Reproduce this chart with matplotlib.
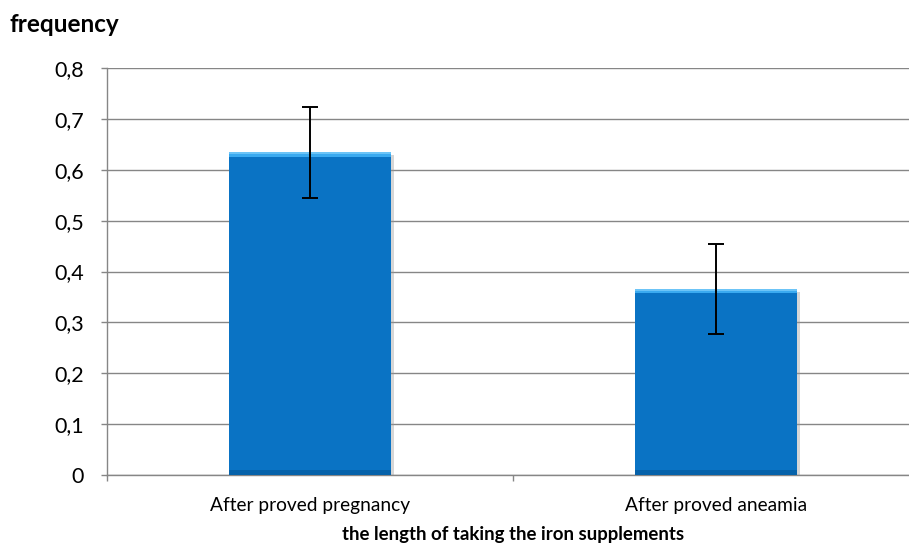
import matplotlib
matplotlib.use("Agg")
import matplotlib.pyplot as plt
import matplotlib.patheffects as pe
import numpy as np

categories = ["After proved pregnancy", "After proved aneamia"]
values = [0.634, 0.366]
errors = [0.089, 0.089]
yticks = [0, 0.1, 0.2, 0.3, 0.4, 0.5, 0.6, 0.7, 0.8]
ytick_labels = ["0", "0,1", "0,2", "0,3", "0,4", "0,5", "0,6", "0,7", "0,8"]

plt.rcParams['font.family'] = ['Lato', 'DejaVu Sans']

W, H = 909, 548
fig = plt.figure(figsize=(W/100, H/100), dpi=100)
ax = fig.add_axes([107/W, 73/H, 812/W, 407/H])

x = np.arange(len(categories))
gray = "#868686"
bw = 0.4

bars = ax.bar(x, values, width=bw, color="#0A73C4", zorder=3,
              path_effects=[pe.SimplePatchShadow(offset=(2, -2), shadow_rgbFace="#999999", alpha=0.4), pe.Normal()])
# bevel highlights
edge = 0.009
ax.bar(x, [edge]*len(x), bottom=[v - edge for v in values], width=bw, color="#3AAAF0", zorder=4)
ax.bar(x, [edge*0.4]*len(x), bottom=[v - edge*0.4 for v in values], width=bw, color="#6CC4F7", zorder=4)
ax.bar(x, [edge]*len(x), bottom=[0]*len(x), width=bw, color="#0662AA", zorder=4)

ax.errorbar(x, values, yerr=errors, fmt='none', ecolor='black', elinewidth=1.4,
            capsize=6, capthick=1.4, zorder=5)

ax.set_xlim(-0.5, len(categories) - 0.5)
ax.set_ylim(0, 0.8)
ax.set_yticks(yticks)
ax.set_yticklabels(ytick_labels, fontsize=15.5)
ax.yaxis.grid(True, color=gray, linewidth=1.0, zorder=0)
ax.set_axisbelow(True)

ax.set_xticks(x)
ax.set_xticklabels(categories, fontsize=13.8)
ax.tick_params(axis='x', length=0, pad=16)
ax.set_xticks([-0.5, 0.5, 1.5], minor=True)
ax.tick_params(axis='x', which='minor', length=4.5, color=gray, width=1)
ax.tick_params(axis='y', length=4.5, color=gray, width=1, pad=12)

for s in ['top', 'right']:
    ax.spines[s].set_visible(False)
for s in ['left', 'bottom']:
    ax.spines[s].set_color(gray)
    ax.spines[s].set_linewidth(1.0)

ax.set_xlabel("the length of taking the iron supplements", fontsize=13.4,
              fontweight='bold')
ax.xaxis.set_label_coords(0.5, -0.125)
fig.text(10/W, 1 - 24/H, "frequency", fontsize=17.5, fontweight='bold', va='center', ha='left')

fig.savefig("out.png", dpi=100)
